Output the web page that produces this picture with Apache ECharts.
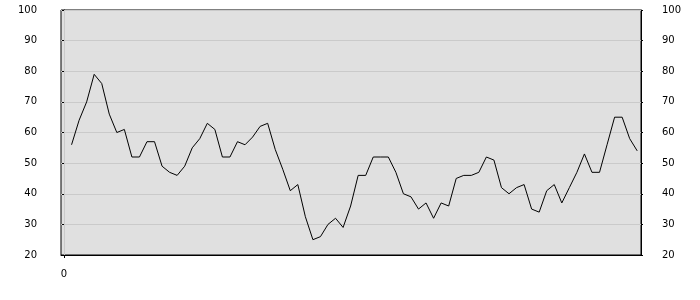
<!DOCTYPE html>
<html>
<head>
<meta charset="utf-8">
<script src="https://cdn.jsdelivr.net/npm/echarts@6/dist/echarts.min.js"></script>
<style>
html,body{margin:0;padding:0;background:#fff;}
#c{width:700px;height:300px;}
</style>
</head>
<body>
<div id="c"></div>
<script>
var values = [56, 64, 70, 79, 76, 66, 60, 61, 52, 52, 57, 57, 49, 47, 46, 49, 55, 58, 63, 61,
  52, 52, 57, 56, 58.5, 62, 63, 54.5, 48, 41, 43, 32.5, 25, 26, 30, 32, 29, 36, 46, 46,
  52, 52, 52, 47, 40, 39, 35, 37, 32, 37, 36, 45, 46, 46, 47, 52, 51, 42, 40, 42,
  43, 35, 34, 41, 43, 37, 42, 47, 53, 47, 47, 56, 65, 65, 58, 54];
var xTickValues = [0];
var yMin = 20, yMax = 100, yStep = 10;

var points = values.map(function (v, i) { return [i + 1, v]; });

var chart = echarts.init(document.getElementById('c'), null, {renderer: 'canvas'});
var labelStyle = {fontFamily: 'DejaVu Sans', fontSize: 10, color: '#000'};
chart.setOption({
  animation: false,
  grid: {
    left: 61, right: 59, top: 10, bottom: 45, containLabel: false,
    show: true, backgroundColor: '#e0e0e0', borderColor: '#000', borderWidth: 1
  },
  xAxis: {
    type: 'value', min: -0.4, max: 76.5,
    axisLine: {show: true, onZero: false, lineStyle: {color: '#000', width: 1}},
    axisTick: {show: true, length: 3, customValues: xTickValues, lineStyle: {color: '#000'}},
    axisLabel: Object.assign({margin: 14, customValues: xTickValues}, labelStyle),
    splitLine: {show: false}
  },
  yAxis: [
    {
      type: 'value', min: yMin, max: yMax, interval: yStep, position: 'left',
      axisLine: {show: true, lineStyle: {color: '#000', width: 1}},
      axisTick: {show: true, length: 2, lineStyle: {color: '#000'}},
      axisLabel: Object.assign({margin: 24}, labelStyle),
      splitLine: {show: true, lineStyle: {color: '#cacaca', width: 1}}
    },
    {
      type: 'value', min: yMin, max: yMax, interval: yStep, position: 'right',
      axisLine: {show: true, lineStyle: {color: '#000', width: 1}},
      axisTick: {show: true, length: 2, lineStyle: {color: '#000'}},
      axisLabel: Object.assign({margin: 21}, labelStyle),
      splitLine: {show: false}
    }
  ],
  series: [{
    type: 'line',
    data: points,
    symbol: 'none',
    lineStyle: {color: '#000', width: 1},
    markLine: {
      silent: true, symbol: 'none', label: {show: false},
      lineStyle: {color: '#cacaca', type: 'solid', width: 1},
      data: xTickValues.map(function (v) { return {xAxis: v}; })
    }
  }]
});
</script>
</body>
</html>
